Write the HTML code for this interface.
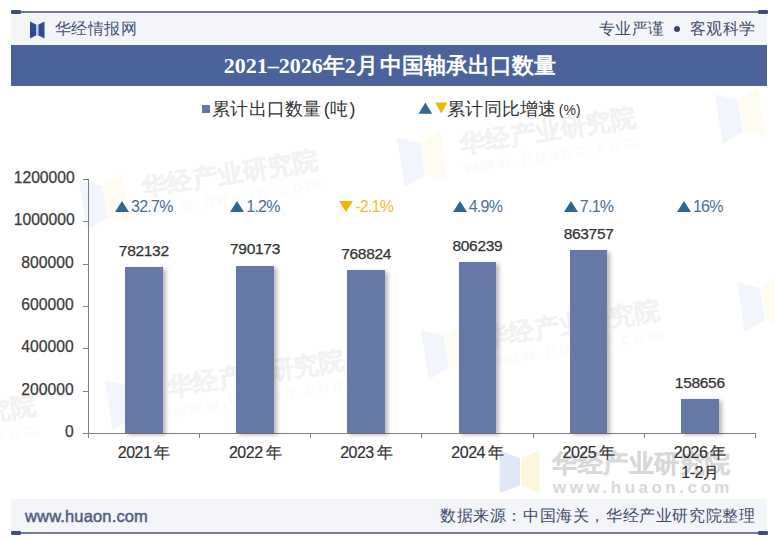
<!DOCTYPE html>
<html><head><meta charset="utf-8">
<style>
html,body{margin:0;padding:0;background:#fff;}
body{width:775px;height:541px;position:relative;overflow:hidden;font-family:"Liberation Sans",sans-serif;}
.a{position:absolute;}
.hdr{left:11px;top:12px;width:756px;height:33px;background:#f3f5f9;}
.band{left:11px;top:45px;width:756px;height:41px;background:#4a639b;}
.ftr{left:11px;top:499px;width:756px;height:34px;background:#f3f5f9;}
.line{left:11px;width:756px;height:2px;background:#757d8b;}
.cap{width:10px;height:4px;border-radius:1.2px;background:#3b4e83;}
.title{left:12px;width:756px;top:45px;height:41px;line-height:41px;text-align:center;color:#fff;font-family:"Liberation Serif",serif;font-weight:bold;font-size:22px;}
.ylab{width:60px;left:13.7px;text-align:right;font-size:15.7px;color:#3a3a3a;line-height:16px;-webkit-text-stroke:0.25px #3a3a3a;}
.tick{left:83px;width:5px;height:1px;background:#808080;}
.xt{top:433px;width:1px;height:5px;background:#808080;}
.bar{width:37.7px;background:#6678a5;box-shadow:3px 2px 4px rgba(30,30,30,0.3);}
.val{width:100px;text-align:center;font-size:15.5px;letter-spacing:-0.3px;color:#333;line-height:16px;-webkit-text-stroke:0.25px #333;}
.gr{width:100px;text-align:center;font-size:16px;letter-spacing:-0.75px;color:#4a6f93;line-height:16px;}
.gr.dn{color:#f2bd2c;}
.up{display:inline-block;width:0;height:0;border-left:7.2px solid transparent;border-right:7.2px solid transparent;border-bottom:11px solid #2d6690;margin-right:2px;vertical-align:0px;}
.dw{display:inline-block;width:0;height:0;border-left:7.2px solid transparent;border-right:7.2px solid transparent;border-top:11px solid #f2b705;margin-right:2px;vertical-align:0px;}
.xl{width:100px;text-align:center;font-size:16px;letter-spacing:-0.5px;color:#333;line-height:20px;-webkit-text-stroke:0.2px #333;}
.xl b{font-weight:normal;margin-left:3px;}
</style></head><body>
<div class="a hdr"></div>
<div class="a band"></div>
<div class="a ftr"></div>
<div class="a line" style="top:11px"></div>
<div class="a cap" style="left:11px;top:10px"></div>
<div class="a cap" style="left:757.5px;top:10px"></div>
<div class="a line" style="top:532px"></div>
<div class="a cap" style="left:11px;top:531px"></div>
<div class="a cap" style="left:757.5px;top:531px"></div>


<!-- watermarks -->
<style>
.wm{position:absolute;transform-origin:0 0;}
.wm .t{position:absolute;white-space:nowrap;font-weight:bold;font-size:25px;line-height:30px;letter-spacing:0.5px;-webkit-text-stroke:0.3px currentColor;}
.wm .u{position:absolute;white-space:nowrap;font-weight:bold;font-size:17px;line-height:18px;letter-spacing:3.5px;}
</style>
<div class="wm" style="left:499px;top:450px;">
<svg style="position:absolute;left:0;top:0" width="42" height="44" viewBox="0 0 42 44"><polygon points="0.7,0.6 21,8 21,35.5 0.7,43" fill="#dfe9f8"/><polygon points="40.4,0.6 22,8 22,35.5 40.4,43" fill="#fdf6dc"/></svg>
<div class="t" style="left:53px;top:-2px;color:#d9d9d9">华经产业研究院</div>
<div class="u" style="left:54px;top:29px;color:#dadada">www.huaon.com</div>
</div>
<div class="wm" style="left:78px;top:180px;transform:rotate(-9deg);">
<svg style="position:absolute;left:0;top:0" width="46" height="52" viewBox="0 0 42 44" preserveAspectRatio="none"><polygon points="0.7,0.6 21,8 21,35.5 0.7,43" fill="#f2f6fc"/><polygon points="40.4,0.6 22,8 22,35.5 40.4,43" fill="#fefcf1"/></svg>
<div class="t" style="left:62px;top:2px;color:#f2f2f2">华经产业研究院</div>
<div class="u" style="left:63px;top:33px;color:#fbfbfb">www.huaon.com</div>
</div>
<div class="wm" style="left:396px;top:137px;transform:rotate(-9deg);">
<svg style="position:absolute;left:0;top:0" width="46" height="52" viewBox="0 0 42 44" preserveAspectRatio="none"><polygon points="0.7,0.6 21,8 21,35.5 0.7,43" fill="#f2f6fc"/><polygon points="40.4,0.6 22,8 22,35.5 40.4,43" fill="#fefcf1"/></svg>
<div class="t" style="left:62px;top:2px;color:#f2f2f2">华经产业研究院</div>
<div class="u" style="left:63px;top:33px;color:#fbfbfb">www.huaon.com</div>
</div>
<div class="wm" style="left:714px;top:94px;transform:rotate(-9deg);">
<svg style="position:absolute;left:0;top:0" width="46" height="52" viewBox="0 0 42 44" preserveAspectRatio="none"><polygon points="0.7,0.6 21,8 21,35.5 0.7,43" fill="#f2f6fc"/><polygon points="40.4,0.6 22,8 22,35.5 40.4,43" fill="#fefcf1"/></svg>
<div class="t" style="left:62px;top:2px;color:#f2f2f2">华经产业研究院</div>
<div class="u" style="left:63px;top:33px;color:#fbfbfb">www.huaon.com</div>
</div>
<div class="wm" style="left:104px;top:380px;transform:rotate(-9deg);">
<svg style="position:absolute;left:0;top:0" width="46" height="52" viewBox="0 0 42 44" preserveAspectRatio="none"><polygon points="0.7,0.6 21,8 21,35.5 0.7,43" fill="#f2f6fc"/><polygon points="40.4,0.6 22,8 22,35.5 40.4,43" fill="#fefcf1"/></svg>
<div class="t" style="left:62px;top:2px;color:#f2f2f2">华经产业研究院</div>
<div class="u" style="left:63px;top:33px;color:#fbfbfb">www.huaon.com</div>
</div>
<div class="wm" style="left:420px;top:330px;transform:rotate(-9deg);">
<svg style="position:absolute;left:0;top:0" width="46" height="52" viewBox="0 0 42 44" preserveAspectRatio="none"><polygon points="0.7,0.6 21,8 21,35.5 0.7,43" fill="#f2f6fc"/><polygon points="40.4,0.6 22,8 22,35.5 40.4,43" fill="#fefcf1"/></svg>
<div class="t" style="left:62px;top:2px;color:#f2f2f2">华经产业研究院</div>
<div class="u" style="left:63px;top:33px;color:#fbfbfb">www.huaon.com</div>
</div>
<div class="wm" style="left:736px;top:282px;transform:rotate(-9deg);">
<svg style="position:absolute;left:0;top:0" width="46" height="52" viewBox="0 0 42 44" preserveAspectRatio="none"><polygon points="0.7,0.6 21,8 21,35.5 0.7,43" fill="#f2f6fc"/><polygon points="40.4,0.6 22,8 22,35.5 40.4,43" fill="#fefcf1"/></svg>
<div class="t" style="left:62px;top:2px;color:#f2f2f2">华经产业研究院</div>
<div class="u" style="left:63px;top:33px;color:#fbfbfb">www.huaon.com</div>
</div>
<div class="wm" style="left:-204px;top:425px;transform:rotate(-9deg);">
<svg style="position:absolute;left:0;top:0" width="46" height="52" viewBox="0 0 42 44" preserveAspectRatio="none"><polygon points="0.7,0.6 21,8 21,35.5 0.7,43" fill="#f2f6fc"/><polygon points="40.4,0.6 22,8 22,35.5 40.4,43" fill="#fefcf1"/></svg>
<div class="t" style="left:62px;top:2px;color:#f2f2f2">华经产业研究院</div>
<div class="u" style="left:63px;top:33px;color:#fbfbfb">www.huaon.com</div>
</div>

<!-- header logo -->
<svg class="a" style="left:28px;top:20px" width="20" height="21" viewBox="0 0 20 21">
<rect x="7.8" y="4.5" width="2.8" height="11" fill="#b3c5e6"/>
<polygon points="2,1.5 8,4.5 8,15.5 2,18.5" fill="#2f4b8c"/>
<polygon points="16.5,1.5 10.5,4.5 10.5,15.5 16.5,18.5" fill="#2f4b8c"/>
</svg>
<div class="a" style="left:54.5px;top:19px;font-size:16px;letter-spacing:0.5px;line-height:20px;color:#46527a;">华经情报网</div>
<div class="a" style="left:598.5px;top:19px;font-size:16px;letter-spacing:0.5px;line-height:20px;color:#3f4b6b;">专业严谨</div>
<div class="a" style="left:674px;top:26px;width:6px;height:6px;border-radius:50%;background:#3a4670;"></div>
<div class="a" style="left:689.5px;top:19px;font-size:16px;letter-spacing:0.5px;line-height:20px;color:#3f4b6b;">客观科学</div>

<div class="a title">2021–2026年2月<span style="margin-left:2.5px">中国轴承出口数量</span></div>

<!-- legend -->
<div class="a" style="left:202px;top:105px;width:8px;height:8px;background:#6678a5"></div>
<div class="a" style="left:212px;top:98px;font-size:18px;letter-spacing:0.3px;line-height:22px;color:#333;">累计出口数量<span style="margin-left:2px">(</span>吨<span style="margin-left:1px">)</span></div>
<svg class="a" style="left:418px;top:102px" width="31" height="13" viewBox="0 0 31 13">
<polygon points="0.6,11.8 7.4,0.4 14.2,11.8" fill="#356890"/>
<polygon points="17.2,0.4 29.4,0.4 23.3,11.6" fill="#f4b800"/>
</svg>
<div class="a" style="left:447px;top:98px;font-size:18px;letter-spacing:0.3px;line-height:22px;color:#333;">累计同比增速<span style="font-size:14px;margin-left:2px;letter-spacing:0">(%)</span></div>

<!-- axes -->
<div class="a" style="left:88px;top:179px;width:1px;height:255px;background:#808080"></div>
<div class="a" style="left:88px;top:433px;width:667px;height:1px;background:#808080"></div>
<div class="a tick" style="top:179px"></div>
<div class="a tick" style="top:221px"></div>
<div class="a tick" style="top:264px"></div>
<div class="a tick" style="top:306px"></div>
<div class="a tick" style="top:348px"></div>
<div class="a tick" style="top:391px"></div>
<div class="a tick" style="top:433px"></div>
<div class="a ylab" style="top:170.4px">1200000</div>
<div class="a ylab" style="top:212.4px">1000000</div>
<div class="a ylab" style="top:255.4px">800000</div>
<div class="a ylab" style="top:297.4px">600000</div>
<div class="a ylab" style="top:339.4px">400000</div>
<div class="a ylab" style="top:382.4px">200000</div>
<div class="a ylab" style="top:424.4px">0</div>






<!-- chart -->
<div class="a xt" style="left:87.7px"></div>
<div class="a xt" style="left:198.9px"></div>
<div class="a xt" style="left:310.1px"></div>
<div class="a xt" style="left:421.3px"></div>
<div class="a xt" style="left:532.5px"></div>
<div class="a xt" style="left:643.7px"></div>
<div class="a xt" style="left:754.9px"></div>
<div class="a bar" style="left:124.95px;top:267.2px;height:165.8px"></div>
<div class="a bar" style="left:236.15px;top:265.5px;height:167.5px"></div>
<div class="a bar" style="left:347.35px;top:270.0px;height:163.0px"></div>
<div class="a bar" style="left:458.55px;top:262.1px;height:170.9px"></div>
<div class="a bar" style="left:569.75px;top:249.9px;height:183.1px"></div>
<div class="a bar" style="left:680.95px;top:399.0px;height:34.0px"></div>
<div class="a val" style="left:93.8px;top:243.0px">782132</div>
<div class="a val" style="left:205.0px;top:241.3px">790173</div>
<div class="a val" style="left:316.2px;top:245.8px">768824</div>
<div class="a val" style="left:427.4px;top:237.9px">806239</div>
<div class="a val" style="left:538.6px;top:225.7px">863757</div>
<div class="a val" style="left:649.8px;top:374.8px">158656</div>
<div class="a gr" style="left:93.8px;top:198.5px"><i class="up"></i>32.7%</div>
<div class="a gr" style="left:205.0px;top:198.5px"><i class="up"></i>1.2%</div>
<div class="a gr dn" style="left:316.2px;top:198.5px"><i class="dw"></i>-2.1%</div>
<div class="a gr" style="left:427.4px;top:198.5px"><i class="up"></i>4.9%</div>
<div class="a gr" style="left:538.6px;top:198.5px"><i class="up"></i>7.1%</div>
<div class="a gr" style="left:649.8px;top:198.5px"><i class="up"></i>16%</div>
<div class="a xl" style="left:93.8px;top:442.5px">2021<b>年</b></div>
<div class="a xl" style="left:205.0px;top:442.5px">2022<b>年</b></div>
<div class="a xl" style="left:316.2px;top:442.5px">2023<b>年</b></div>
<div class="a xl" style="left:427.4px;top:442.5px">2024<b>年</b></div>
<div class="a xl" style="left:538.6px;top:442.5px">2025<b>年</b></div>
<div class="a xl" style="left:649.8px;top:442.5px">2026<b>年</b><br>1-2月</div>

<!-- footer -->
<div class="a" style="left:25px;top:506px;font-size:16.5px;line-height:20px;color:#525e82;letter-spacing:0.15px;-webkit-text-stroke:0.5px #525e82;">www.huaon.com</div>
<div class="a" style="left:440px;top:506px;font-size:16px;letter-spacing:0.6px;line-height:20px;color:#3f4b6b;">数据来源：中国海关，华经产业研究院整理</div>
</body></html>
